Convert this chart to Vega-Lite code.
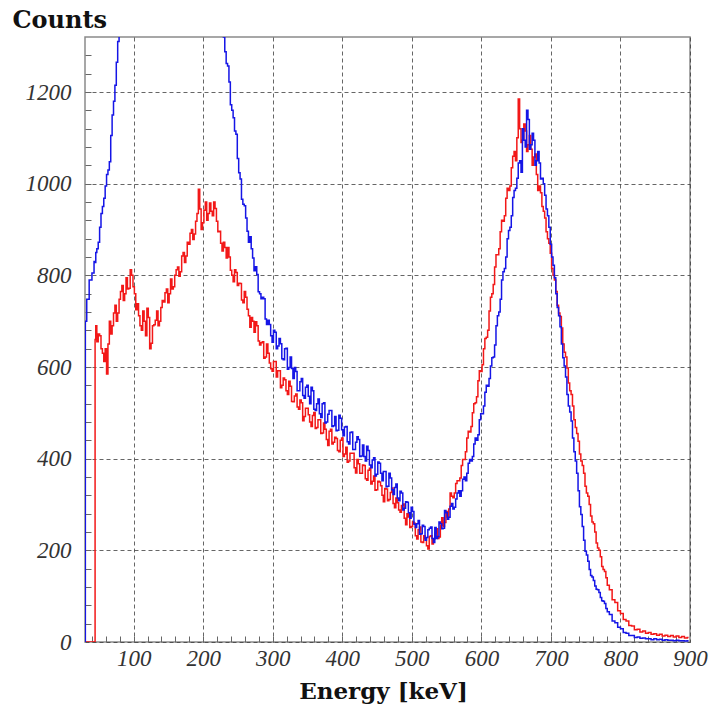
{
  "$schema": "https://vega.github.io/schema/vega-lite/v6.json",
  "width": 605,
  "height": 605,
  "autosize": {"type": "none"},
  "padding": {"left": 85, "top": 37, "right": 20, "bottom": 70},
  "background": "white",
  "config": {
    "view": {"stroke": "#8a8a8a", "strokeWidth": 1.5},
    "font": "Liberation Serif"
  },
  "data": {"values": [
    {"e":30,"r":0,"b":0},{"e":31,"r":0,"b":700},{"e":34,"r":0,"b":748},{"e":38,"r":0,"b":790},{"e":42,"r":0,"b":805},{"e":44,"r":0,"b":830},{"e":45,"r":660,"b":828},
    {"e":46,"r":690,"b":850},{"e":48,"r":655,"b":858},{"e":50,"r":672,"b":872},{"e":52,"r":668,"b":905},{"e":54,"r":640,"b":935},{"e":56,"r":630,"b":950},
    {"e":58,"r":612,"b":968},{"e":60,"r":640,"b":995},{"e":62,"r":585,"b":1020},{"e":64,"r":650,"b":1030},{"e":66,"r":700,"b":1048},{"e":68,"r":672,"b":1105},
    {"e":70,"r":690,"b":1150},{"e":72,"r":718,"b":1180},{"e":74,"r":735,"b":1215},{"e":76,"r":700,"b":1265},{"e":78,"r":718,"b":1310},{"e":80,"r":748,"b":1350},
    {"e":82,"r":765,"b":1390},{"e":84,"r":778,"b":1435},{"e":86,"r":745,"b":1480},{"e":88,"r":760,"b":1525},{"e":90,"r":795,"b":1570},{"e":92,"r":770,"b":1615},
    {"e":94,"r":772,"b":1660},{"e":96,"r":812,"b":1705},{"e":98,"r":800,"b":1750},{"e":100,"r":775,"b":1795},{"e":102,"r":760,"b":1840},{"e":104,"r":725,"b":1880},
    {"e":106,"r":738,"b":1920},{"e":108,"r":712,"b":1960},{"e":110,"r":690,"b":2000},{"e":112,"r":680,"b":2040},{"e":114,"r":722,"b":2080},{"e":116,"r":700,"b":2115},
    {"e":118,"r":668,"b":2150},{"e":120,"r":728,"b":2185},{"e":122,"r":708,"b":2220},{"e":124,"r":640,"b":2250},{"e":126,"r":652,"b":2280},{"e":128,"r":690,"b":2305},
    {"e":130,"r":692,"b":2330},{"e":132,"r":702,"b":2355},{"e":134,"r":722,"b":2380},{"e":136,"r":690,"b":2400},{"e":138,"r":700,"b":2420},{"e":140,"r":730,"b":2435},
    {"e":142,"r":745,"b":2450},{"e":144,"r":742,"b":2460},{"e":146,"r":762,"b":2470},{"e":148,"r":770,"b":2475},{"e":150,"r":740,"b":2480},{"e":152,"r":760,"b":2470},
    {"e":154,"r":792,"b":2460},{"e":156,"r":770,"b":2445},{"e":158,"r":775,"b":2430},{"e":160,"r":800,"b":2410},{"e":162,"r":812,"b":2390},{"e":164,"r":818,"b":2365},
    {"e":166,"r":798,"b":2340},{"e":168,"r":808,"b":2310},{"e":170,"r":842,"b":2280},{"e":172,"r":850,"b":2245},{"e":174,"r":828,"b":2210},{"e":176,"r":842,"b":2170},
    {"e":178,"r":872,"b":2130},{"e":180,"r":868,"b":2090},{"e":182,"r":892,"b":2050},{"e":184,"r":900,"b":2005},{"e":186,"r":878,"b":1960},{"e":188,"r":890,"b":1915},
    {"e":190,"r":918,"b":1870},{"e":192,"r":935,"b":1825},{"e":194,"r":988,"b":1780},{"e":196,"r":945,"b":1740},{"e":198,"r":900,"b":1700},{"e":200,"r":915,"b":1670},
    {"e":202,"r":942,"b":1640},{"e":204,"r":960,"b":1615},{"e":206,"r":920,"b":1590},{"e":208,"r":935,"b":1567},{"e":210,"r":958,"b":1545},{"e":212,"r":940,"b":1522},
    {"e":214,"r":930,"b":1500},{"e":216,"r":960,"b":1478},{"e":218,"r":946,"b":1455},{"e":220,"r":918,"b":1432},{"e":222,"r":895,"b":1410},{"e":224,"r":896,"b":1408},
    {"e":226,"r":870,"b":1365},{"e":228,"r":853,"b":1331},{"e":230,"r":872,"b":1320},{"e":232,"r":861,"b":1288},{"e":234,"r":838,"b":1262},{"e":236,"r":861,"b":1257},
    {"e":238,"r":840,"b":1222},{"e":240,"r":811,"b":1172},{"e":242,"r":800,"b":1160},{"e":244,"r":786,"b":1144},{"e":246,"r":812,"b":1115},{"e":248,"r":806,"b":1108},
    {"e":250,"r":778,"b":1055},{"e":252,"r":783,"b":1024},{"e":254,"r":782,"b":1010},{"e":256,"r":746,"b":966},{"e":258,"r":740,"b":955},{"e":260,"r":765,"b":952},
    {"e":262,"r":752,"b":925},{"e":264,"r":726,"b":896},{"e":266,"r":712,"b":872},{"e":268,"r":687,"b":884},{"e":270,"r":708,"b":858},{"e":272,"r":700,"b":838},
    {"e":274,"r":676,"b":810},{"e":276,"r":699,"b":819},{"e":278,"r":690,"b":802},{"e":280,"r":657,"b":764},{"e":282,"r":648,"b":760},{"e":284,"r":653,"b":749},
    {"e":286,"r":655,"b":752},{"e":288,"r":619,"b":749},{"e":290,"r":622,"b":705},{"e":292,"r":650,"b":693},{"e":294,"r":630,"b":702},{"e":296,"r":609,"b":693},
    {"e":298,"r":596,"b":668},{"e":300,"r":591,"b":654},{"e":302,"r":612,"b":680},{"e":304,"r":612,"b":676},{"e":306,"r":578,"b":640},{"e":308,"r":592,"b":646},
    {"e":310,"r":592,"b":662},{"e":312,"r":555,"b":651},{"e":314,"r":560,"b":618},{"e":316,"r":576,"b":616},{"e":318,"r":572,"b":640},{"e":320,"r":548,"b":641},
    {"e":322,"r":540,"b":595},{"e":324,"r":569,"b":599},{"e":326,"r":558,"b":622},{"e":328,"r":525,"b":597},{"e":330,"r":524,"b":575},{"e":332,"r":537,"b":599},
    {"e":334,"r":541,"b":590},{"e":336,"r":513,"b":548},{"e":338,"r":508,"b":548},{"e":340,"r":528,"b":568},{"e":342,"r":522,"b":575},{"e":344,"r":483,"b":538},
    {"e":346,"r":492,"b":532},{"e":348,"r":510,"b":556},{"e":350,"r":510,"b":560},{"e":352,"r":496,"b":536},{"e":354,"r":480,"b":520},{"e":356,"r":470,"b":556},
    {"e":358,"r":494,"b":548},{"e":360,"r":501,"b":508},{"e":362,"r":466,"b":505},{"e":364,"r":468,"b":520},{"e":366,"r":485,"b":530},{"e":368,"r":485,"b":498},
    {"e":370,"r":455,"b":490},{"e":372,"r":456,"b":520},{"e":374,"r":478,"b":522},{"e":376,"r":464,"b":478},{"e":378,"r":442,"b":480},{"e":380,"r":429,"b":497},
    {"e":382,"r":460,"b":505},{"e":384,"r":464,"b":505},{"e":386,"r":432,"b":470},{"e":388,"r":436,"b":472},{"e":390,"r":447,"b":492},{"e":392,"r":444,"b":461},
    {"e":394,"r":418,"b":462},{"e":396,"r":415,"b":495},{"e":398,"r":440,"b":488},{"e":400,"r":445,"b":463},{"e":402,"r":405,"b":450},{"e":404,"r":410,"b":469},
    {"e":406,"r":425,"b":470},{"e":408,"r":392,"b":437},{"e":410,"r":395,"b":432},{"e":412,"r":412,"b":457},{"e":414,"r":412,"b":458},{"e":416,"r":412,"b":420},
    {"e":418,"r":380,"b":420},{"e":420,"r":369,"b":436},{"e":422,"r":398,"b":448},{"e":424,"r":389,"b":442},{"e":426,"r":368,"b":405},{"e":428,"r":368,"b":406},
    {"e":430,"r":386,"b":430},{"e":432,"r":385,"b":405},{"e":434,"r":356,"b":395},{"e":436,"r":353,"b":427},{"e":438,"r":375,"b":418},{"e":440,"r":379,"b":386},
    {"e":442,"r":345,"b":380},{"e":444,"r":351,"b":397},{"e":446,"r":362,"b":402},{"e":448,"r":331,"b":362},{"e":450,"r":332,"b":366},{"e":452,"r":351,"b":393},
    {"e":454,"r":349,"b":390},{"e":456,"r":341,"b":368},{"e":458,"r":320,"b":352},{"e":460,"r":306,"b":372},{"e":462,"r":335,"b":372},{"e":464,"r":334,"b":339},
    {"e":466,"r":308,"b":340},{"e":468,"r":311,"b":368},{"e":470,"r":326,"b":358},{"e":472,"r":336,"b":332},{"e":474,"r":302,"b":322},{"e":476,"r":293,"b":337},
    {"e":478,"r":314,"b":345},{"e":480,"r":304,"b":314},{"e":482,"r":288,"b":308},{"e":484,"r":283,"b":329},{"e":486,"r":298,"b":325},{"e":488,"r":301,"b":288},
    {"e":490,"r":270,"b":292},{"e":492,"r":256,"b":306},{"e":494,"r":280,"b":305},{"e":496,"r":273,"b":282},{"e":498,"r":250,"b":270},{"e":500,"r":252,"b":294},
    {"e":502,"r":262,"b":285},{"e":504,"r":259,"b":257},{"e":506,"r":232,"b":250},{"e":508,"r":225,"b":258},{"e":510,"r":245,"b":265},{"e":512,"r":251,"b":235},
    {"e":514,"r":218,"b":236},{"e":516,"r":217,"b":255},{"e":518,"r":232,"b":252},{"e":520,"r":226,"b":222},{"e":522,"r":210,"b":228},{"e":524,"r":203,"b":245},
    {"e":526,"r":230,"b":248},{"e":528,"r":232,"b":251},{"e":530,"r":214,"b":226},{"e":532,"r":225,"b":217},{"e":534,"r":238,"b":250},{"e":536,"r":247,"b":226},
    {"e":538,"r":226,"b":230},{"e":540,"r":229,"b":262},{"e":542,"r":255,"b":258},{"e":544,"r":271,"b":247},{"e":546,"r":252,"b":248},{"e":548,"r":261,"b":287},
    {"e":550,"r":285,"b":282},{"e":552,"r":273,"b":268},{"e":554,"r":290,"b":272},{"e":556,"r":325,"b":296},{"e":558,"r":318,"b":302},{"e":560,"r":315,"b":290},
    {"e":562,"r":325,"b":294},{"e":564,"r":346,"b":312},{"e":566,"r":352,"b":325},{"e":568,"r":352,"b":330},{"e":570,"r":358,"b":318},{"e":572,"r":385,"b":330},
    {"e":574,"r":398,"b":355},{"e":576,"r":398,"b":360},{"e":578,"r":415,"b":352},{"e":580,"r":445,"b":368},{"e":582,"r":460,"b":390},{"e":584,"r":458,"b":398},
    {"e":586,"r":470,"b":395},{"e":588,"r":500,"b":405},{"e":590,"r":520,"b":432},{"e":592,"r":522,"b":445},{"e":594,"r":535,"b":440},{"e":596,"r":570,"b":452},
    {"e":598,"r":592,"b":485},{"e":600,"r":590,"b":498},{"e":602,"r":605,"b":498},{"e":604,"r":640,"b":515},{"e":606,"r":662,"b":545},{"e":608,"r":665,"b":560},
    {"e":610,"r":680,"b":558},{"e":612,"r":722,"b":575},{"e":614,"r":752,"b":602},{"e":616,"r":760,"b":620},{"e":618,"r":780,"b":622},{"e":620,"r":818,"b":648},
    {"e":622,"r":845,"b":690},{"e":624,"r":845,"b":712},{"e":626,"r":858,"b":720},{"e":628,"r":895,"b":748},{"e":630,"r":920,"b":790},{"e":632,"r":918,"b":808},
    {"e":634,"r":930,"b":815},{"e":636,"r":968,"b":840},{"e":638,"r":990,"b":880},{"e":640,"r":985,"b":898},{"e":642,"r":995,"b":905},{"e":644,"r":1035,"b":930},
    {"e":646,"r":1060,"b":970},{"e":648,"r":1070,"b":985},{"e":650,"r":1050,"b":990},{"e":652,"r":1100,"b":1012},{"e":654,"r":1185,"b":1045},{"e":656,"r":1120,"b":1050},
    {"e":658,"r":1090,"b":1025},{"e":660,"r":1095,"b":1120},{"e":662,"r":1130,"b":1095},{"e":664,"r":1115,"b":1080},{"e":666,"r":1070,"b":1160},{"e":668,"r":1085,"b":1140},
    {"e":670,"r":1105,"b":1075},{"e":672,"r":1075,"b":1085},{"e":674,"r":1040,"b":1110},{"e":676,"r":1058,"b":1095},{"e":678,"r":1065,"b":1040},{"e":680,"r":1020,"b":1050},
    {"e":682,"r":985,"b":1070},{"e":684,"r":995,"b":1045},{"e":686,"r":980,"b":1010},{"e":688,"r":950,"b":1012},{"e":690,"r":940,"b":1000},{"e":692,"r":925,"b":975},
    {"e":694,"r":895,"b":945},{"e":696,"r":880,"b":930},{"e":698,"r":870,"b":905},{"e":700,"r":848,"b":868},{"e":702,"r":815,"b":840},{"e":704,"r":800,"b":822},
    {"e":706,"r":790,"b":795},{"e":708,"r":765,"b":760},{"e":710,"r":735,"b":730},{"e":712,"r":718,"b":712},{"e":714,"r":710,"b":688},{"e":716,"r":685,"b":650},
    {"e":718,"r":650,"b":620},{"e":720,"r":632,"b":602},{"e":722,"r":622,"b":578},{"e":724,"r":598,"b":540},{"e":726,"r":565,"b":515},{"e":728,"r":548,"b":502},
    {"e":730,"r":540,"b":482},{"e":732,"r":515,"b":445},{"e":734,"r":485,"b":415},{"e":736,"r":468,"b":395},{"e":738,"r":455,"b":368},{"e":740,"r":438,"b":330},
    {"e":742,"r":410,"b":295},{"e":744,"r":395,"b":278},{"e":746,"r":385,"b":252},{"e":748,"r":368,"b":222},{"e":750,"r":340,"b":198},{"e":752,"r":325,"b":190},
    {"e":754,"r":318,"b":176},{"e":756,"r":300,"b":158},{"e":758,"r":275,"b":145},{"e":760,"r":262,"b":142},{"e":762,"r":258,"b":134},{"e":764,"r":240,"b":122},
    {"e":766,"r":216,"b":115},{"e":768,"r":205,"b":114},{"e":770,"r":200,"b":108},{"e":772,"r":186,"b":97},{"e":774,"r":165,"b":90},{"e":776,"r":158,"b":89},
    {"e":778,"r":154,"b":84},{"e":780,"r":140,"b":73},{"e":782,"r":124,"b":66},{"e":786,"r":114,"b":60},
    {"e":790,"r":92,"b":46},{"e":794,"r":86,"b":42},{"e":798,"r":68,"b":32},{"e":802,"r":62,"b":29},{"e":806,"r":49,"b":21},{"e":810,"r":46,"b":19},
    {"e":814,"r":36,"b":14},{"e":818,"r":35,"b":14},{"e":822,"r":27,"b":10},{"e":826,"r":28,"b":11},{"e":830,"r":22,"b":8},{"e":834,"r":24,"b":9},
    {"e":838,"r":19,"b":7},{"e":842,"r":21,"b":7},{"e":846,"r":17,"b":5},{"e":850,"r":18,"b":7},{"e":854,"r":15,"b":5},{"e":858,"r":17,"b":6},
    {"e":862,"r":13,"b":4},{"e":866,"r":15,"b":5},{"e":870,"r":12,"b":4},{"e":874,"r":14,"b":4},{"e":878,"r":11,"b":3},{"e":882,"r":13,"b":4},
    {"e":886,"r":10,"b":3},{"e":890,"r":12,"b":3},{"e":894,"r":9,"b":2},{"e":898,"r":10,"b":3}
  ]},
  "resolve": {"axis": {"x": "independent", "y": "independent"}},
  "layer": [
    {
      "mark": {"type": "line", "color": "#f21818", "strokeWidth": 1.5, "clip": true, "interpolate": "step"},
      "encoding": {
        "x": {"field": "e", "type": "quantitative", "scale": {"domain": [30, 900], "nice": false, "zero": false},
          "axis": {"orient": "bottom", "values": [100,200,300,400,500,600,700,800,900], "ticks": false, "domain": false, "format": "d",
            "grid": true, "gridColor": "#333", "gridDash": [4,3], "gridWidth": 1, "gridOpacity": 0.75,
            "labelFont": "Liberation Serif", "labelFontStyle": "italic", "labelFontSize": 23, "labelColor": "#333",
            "labelPadding": 5, "labelFlush": false, "labelOverlap": false,
            "title": "Energy [keV]", "titleFont": "DejaVu Serif", "titleFontWeight": "bold", "titleFontSize": 23, "titleColor": "#111",
            "titleX": 298, "titleY": 56, "titleAlign": "center", "titleBaseline": "alphabetic"}},
        "y": {"field": "r", "type": "quantitative", "scale": {"domain": [0, 1320], "nice": false},
          "axis": {"orient": "left", "values": [0,200,400,600,800,1000,1200], "ticks": false, "domain": false, "format": "d",
            "grid": true, "gridColor": "#333", "gridDash": [4,3], "gridWidth": 1, "gridOpacity": 0.75,
            "labelFont": "Liberation Serif", "labelFontStyle": "italic", "labelFontSize": 23, "labelColor": "#333",
            "labelPadding": 14, "labelFlush": false, "labelOverlap": false,
            "title": "Counts", "titleFont": "DejaVu Serif", "titleFontWeight": "bold", "titleFontSize": 24, "titleColor": "#111",
            "titleAngle": 0, "titleX": -73, "titleY": -10, "titleAlign": "left", "titleBaseline": "alphabetic"}}
      }
    },
    {
      "mark": {"type": "line", "color": "#1515e6", "strokeWidth": 1.5, "clip": true, "interpolate": "step"},
      "encoding": {
        "x": {"field": "e", "type": "quantitative",
          "axis": {"orient": "bottom", "values": [40,60,80,100,120,140,160,180,200,220,240,260,280,300,320,340,360,380,400,420,440,460,480,500,520,540,560,580,600,620,640,660,680,700,720,740,760,780,800,820,840,860,880],
            "labels": false, "grid": false, "domain": false, "ticks": true, "tickSize": -6, "tickColor": "#666", "tickWidth": 1, "title": null}},
        "y": {"field": "b", "type": "quantitative",
          "axis": {"orient": "left", "values": [40,80,120,160,200,240,280,320,360,400,440,480,520,560,600,640,680,720,760,800,840,880,920,960,1000,1040,1080,1120,1160,1200,1240,1280],
            "labels": false, "grid": false, "domain": false, "ticks": true, "tickSize": -6, "tickColor": "#666", "tickWidth": 1, "title": null}}
      }
    }
  ]
}
